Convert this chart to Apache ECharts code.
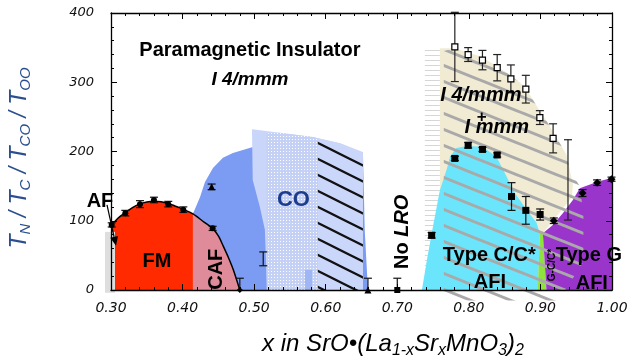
<!DOCTYPE html>
<html>
<head>
<meta charset="utf-8">
<script src="https://cdn.jsdelivr.net/npm/echarts@6/dist/echarts.min.js"></script>
<style>
  html, body { margin: 0; padding: 0; background: #fff; }
  #chart { width: 636px; height: 360px; }
</style>
</head>
<body>
<div id="chart"></div>
<script>
// ---------- phase regions: outlines as [x, T (K)] ----------
const fmBoundary = [[0.301,94],[0.31,104],[0.32,112],[0.33,119],[0.34,124],[0.35,127],[0.36,128],[0.37,127.5],
  [0.38,125],[0.39,121],[0.40,117],[0.4145,110],[0.43,98],[0.442,89],[0.45,78],[0.457,63],[0.464,47],[0.471,29],[0.48,0]];
const afStrip = [[0.2916,-4],[0.3056,-4],[0.3056,84],[0.2916,84]];
const coBaseEdge = [[0.4145,110],[0.4243,134],[0.4313,156],[0.4425,176],[0.4564,191],[0.4704,198],[0.49,204],
  [0.497,206],[0.652,199],[0.6545,87],[0.659,0]];
const coRegion = [[0.497,232],[0.536,227],[0.582,221],[0.620,212],[0.652,199],[0.652,0],[0.518,0],
  [0.515,87],[0.508,120],[0.498,159]];
const coDotted = [[0.5175,226],[0.536,227],[0.582,221],[0.589,219],[0.589,0],[0.5175,0]];
const coHatched = [[0.589,219],[0.620,212],[0.652,199],[0.652,0],[0.589,0]];
const coBar = [[0.571,0],[0.571,29],[0.581,29],[0.581,0]];
const stripeBand = [[0.7385,352],[0.7595,352],[0.7595,144],[0.7497,91],[0.7413,43],[0.7385,25]];
const tetragonal = [[0.7595,0],[0.7595,349],[0.7804,349],[0.8177,337],[0.8545,313],[0.8782,294],[0.8922,270],
  [0.9103,241],[0.9243,217],[0.9365,195],[0.9411,173],[0.9453,152],[0.944,134],[0.9034,82],[0.9034,0]];
const typeC = [[0.7344,0],[0.7413,43],[0.7497,91],[0.7595,144],[0.7693,175],[0.7735,192],[0.7828,205],[0.7968,208],
  [0.8196,207],[0.8387,192],[0.8527,164],[0.8643,140],[0.8806,116],[0.8946,97],[0.8992,82],[0.8964,0]];
const mixedGC = [[0.8964,0],[0.8992,82],[0.9034,82],[0.9084,0]];
const typeG = [[0.9084,0],[0.9034,82],[0.9173,94],[0.9313,111],[0.9453,130],[0.955,147],[0.9788,156],[1.0,162],[1.0,0]];
const hatchZone = [[0.765,345],[0.7804,349],[0.8177,337],[0.8545,313],[0.8782,294],[0.8922,270],[0.9103,241],
  [0.9243,217],[0.9365,195],[0.9411,173],[0.955,150],[0.96,110],[0.96,40],[0.925,-15],[0.765,-15]];

// ---------- measured transitions: [x, T, error] ----------
const fmTc = [[0.301,94,3],[0.32,111,4],[0.3405,124,5],[0.36,130,4],[0.38,124,4],[0.401,116,4],[0.442,89,3]];
const coOnset = [[0.4406,149,4]];
const coBroad = [[0.5127,45,10]];
const zeroCircle = [[0.48,0,17]];
const zeroTriangle = [[0.659,0,17]];
const zeroSquare = [[0.70,0,17]];
const tOO = [[0.7804,351,50],[0.799,340,10],[0.819,332,14],[0.8396,321,19],[0.8587,305,20],[0.8796,290,20],
  [0.8992,249,10],[0.9177,219,21]];
const tOOBroad = [[0.9385,159,58]];
const tnTypeC = [[0.748,79,4],[0.7804,190,3],[0.799,209,4],[0.819,203,3],[0.8396,195,3],[0.8596,135,20],
  [0.8796,115,20],[0.8996,109,8]];
const tnTypeG = [[0.9187,100,4],[0.9588,140,5],[0.9792,155,4],[0.9993,160,3]];

// ---------- helpers ----------
const SANS = '"Liberation Sans", Arial, Helvetica, sans-serif';
const TICK_FONT = '"DejaVu Sans", sans-serif';

function pattern(w, h, draw) {
  const c = document.createElement('canvas');
  c.width = w; c.height = h;
  draw(c.getContext('2d'), w, h);
  return { image: c, repeat: 'repeat' };
}
function slantLines(color, lw, bg) {
  return function (g, w, h) {
    if (bg) { g.fillStyle = bg; g.fillRect(0, 0, w, h); }
    g.strokeStyle = color; g.lineWidth = lw;
    for (let k = -1; k <= 1; k++) {
      g.beginPath(); g.moveTo(-2, k * h - 2 * h / w); g.lineTo(w + 2, k * h + h + 2 * h / w); g.stroke();
    }
  };
}
const grayHatch = pattern(40, 16, slantLines('#a9a9a9', 3, null));
const blackHatch = pattern(32, 16, slantLines('#111', 2.3, '#cad7fa'));
const dots = pattern(3, 3, (g) => {
  g.fillStyle = '#c4d1f5'; g.fillRect(0, 0, 3, 3);
  g.fillStyle = '#ffffff'; g.fillRect(1, 1, 1, 1);
});
const stripes = pattern(4, 5, (g) => {
  g.fillStyle = '#ffffff'; g.fillRect(0, 0, 4, 5);
  g.fillStyle = '#d6d6d6'; g.fillRect(0, 0, 4, 1);
});

let zi = 1;
function region(name, outline, fill) {
  return {
    type: 'custom', name, silent: true, z: zi++, animation: false,
    data: [outline[0]],
    renderItem: (params, api) => ({
      type: 'polygon',
      shape: { points: outline.map(p => api.coord(p)) },
      style: { fill: fill, stroke: null }
    })
  };
}

function errorBars(name, pts, color) {
  return {
    type: 'custom', name, silent: true, z: 40, animation: false,
    data: pts.map(p => [p[0], p[1], Math.max(0, p[1] - p[2]), p[1] + p[2]]),
    renderItem: (params, api) => {
      const lo = api.coord([api.value(0), api.value(2)]);
      const hi = api.coord([api.value(0), api.value(3)]);
      const st = { stroke: color, lineWidth: 1.2 };
      const kids = [
        { type: 'line', shape: { x1: hi[0], y1: hi[1], x2: lo[0], y2: lo[1] }, style: st },
        { type: 'line', shape: { x1: hi[0] - 4, y1: hi[1], x2: hi[0] + 4, y2: hi[1] }, style: st }
      ];
      if (api.value(2) > 0) {
        kids.push({ type: 'line', shape: { x1: lo[0] - 4, y1: lo[1], x2: lo[0] + 4, y2: lo[1] }, style: st });
      }
      return { type: 'group', children: kids };
    }
  };
}

function markers(name, pts, symbol, size, fill, border) {
  return {
    type: 'scatter', name, silent: true, z: 50, animation: false,
    symbol, symbolSize: size,
    itemStyle: { color: fill, borderColor: border || fill, borderWidth: border ? 1.2 : 0, opacity: 1 },
    data: pts.map(p => [p[0], p[1]])
  };
}

// text placed at data coordinates
const bold = { fontWeight: 'bold', fontFamily: SANS, fill: '#000' };
const annotations = [
  { x: 0.4941, y: 346, text: 'Paramagnetic Insulator', size: 20 },
  { x: 0.4941, y: 303, text: 'I 4/mmm', size: 19, italic: true },
  { x: 0.2846, y: 128, text: 'AF', size: 20 },
  { x: 0.3642, y: 41, text: 'FM', size: 20 },
  { x: 0.448, y: 30, text: 'CAF', size: 20, rot: Math.PI / 2 },
  { x: 0.5549, y: 130, text: 'CO', size: 22, color: '#1d3d8c' },
  { x: 0.7078, y: 84, text: '{a|No} {b|LRO}', size: 20, rot: Math.PI / 2,
    rich: { a: { fontSize: 20, fontWeight: 'bold', fontFamily: SANS },
            b: { fontSize: 20, fontWeight: 'bold', fontStyle: 'italic', fontFamily: SANS } } },
  { x: 0.8168, y: 281, text: 'I 4/mmm', size: 20, italic: true },
  { x: 0.839, y: 234, text: 'I mmm', size: 20, italic: true },
  { x: 0.818, y: 250, text: '+', size: 17 },
  { x: 0.8286, y: 50, text: 'Type C/C*', size: 20 },
  { x: 0.8293, y: 11, text: 'AFI', size: 20 },
  { x: 0.9159, y: 36, text: 'G-C/C*', size: 10, rot: Math.PI / 2 },
  { x: 0.9676, y: 50, text: 'Type G', size: 20 },
  { x: 0.9718, y: 10, text: 'AFI', size: 20 }
];

const series = [
  region('FM', [[fmBoundary[0][0], 0], ...fmBoundary.filter(p => p[0] <= 0.4145), [0.4145, 0]], '#ff2a00'),
  region('AF', afStrip, '#dedede'),
  region('CAF', [[0.4145, 0], ...fmBoundary.filter(p => p[0] >= 0.4145)], '#e08b99'),
  region('CO base', [...coBaseEdge, ...fmBoundary.filter(p => p[0] >= 0.4145).reverse()], '#7b9cf2'),
  region('CO', coRegion, '#c9d6fa'),
  region('CO dotted', coDotted, dots),
  region('CO hatched', coHatched, blackHatch),
  region('CO bar', coBar, '#9fb6f5'),
  region('stripes', stripeBand, stripes),
  region('I4/mmm', tetragonal, '#f1ebd4'),
  region('Type C', typeC, '#6be5fb'),
  region('G-C', mixedGC, '#8fe23b'),
  region('Type G', typeG, '#9a35cc'),
  region('Immm', hatchZone, grayHatch),
  {
    type: 'line', name: 'FM boundary', data: fmBoundary, showSymbol: false, silent: true, z: 30,
    animation: false, smooth: 0.3, lineStyle: { color: '#000', width: 1.5 }
  },
  {
    type: 'custom', name: 'AF pointer', silent: true, z: 45, animation: false,
    data: [[0.2944, 123]],
    renderItem: (params, api) => {
      const a = api.coord([0.2944, 123]);
      const b = api.coord([0.307, 64]);
      const dx = b[0] - a[0], dy = b[1] - a[1], L = Math.hypot(dx, dy);
      const ux = dx / L, uy = dy / L;
      const base = [b[0] - ux * 9, b[1] - uy * 9];
      return {
        type: 'group', children: [
          { type: 'line', shape: { x1: a[0], y1: a[1], x2: base[0], y2: base[1] }, style: { stroke: '#000', lineWidth: 1.2 } },
          { type: 'polygon', shape: { points: [b, [base[0] - uy * 4, base[1] + ux * 4], [base[0] + uy * 4, base[1] - ux * 4]] },
            style: { fill: '#000' } }
        ]
      };
    }
  },
  errorBars('FM err', fmTc, '#111'),
  errorBars('CO err', coOnset.concat(coBroad), '#111'),
  errorBars('zero err', zeroCircle.concat(zeroTriangle, zeroSquare), '#111'),
  errorBars('OO err', tOO.concat(tOOBroad), '#222'),
  errorBars('C err', tnTypeC, '#111'),
  errorBars('G err', tnTypeG, '#111'),
  markers('T_C', fmTc, 'circle', 6, '#000'),
  markers('CO onset', coOnset, 'triangle', 7, '#000'),
  markers('zero circle', zeroCircle, 'diamond', 6, '#000'),
  markers('zero triangle', zeroTriangle, 'triangle', 7, '#000'),
  markers('zero square', zeroSquare, 'rect', 6, '#000'),
  markers('T_OO', tOO, 'rect', 6, '#fff', '#000'),
  markers('T_N C', tnTypeC, 'rect', 7, '#000'),
  markers('T_N G', tnTypeG, 'diamond', 8, '#000'),
  {
    type: 'custom', name: 'labels', silent: true, z: 60, animation: false,
    data: annotations.map(a => [a.x, a.y]),
    renderItem: (params, api) => {
      const a = annotations[params.dataIndex];
      const p = api.coord([a.x, a.y]);
      return {
        type: 'text', x: p[0], y: p[1], rotation: a.rot || 0,
        style: {
          text: a.text, rich: a.rich,
          fontSize: a.size, fontWeight: 'bold', fontStyle: a.italic ? 'italic' : 'normal',
          fontFamily: SANS, fill: a.color || '#000',
          align: 'center', verticalAlign: 'middle', textAlign: 'center', textVerticalAlign: 'middle'
        }
      };
    }
  }
];

const frameLine = { show: true, onZero: false, lineStyle: { color: '#000', width: 1.3 } };
const tick = { show: true, inside: true, length: 6, lineStyle: { color: '#000', width: 1 } };
const minor = { show: true, splitNumber: 5, length: 3, lineStyle: { color: '#000', width: 1 } };

const chart = echarts.init(document.getElementById('chart'), null, { renderer: 'canvas' });
chart.setOption({
  animation: false,
  backgroundColor: '#fff',
  grid: { left: 111, right: 24, top: 13, bottom: 70 },
  xAxis: [
    {
      type: 'value', min: 0.3, max: 1.0, interval: 0.1, z: 80,
      axisLine: frameLine, axisTick: tick, minorTick: minor, splitLine: { show: false },
      axisLabel: {
        formatter: v => v.toFixed(2), margin: 11, color: '#111',
        fontFamily: TICK_FONT, fontStyle: 'italic', fontSize: 14
      }
    },
    {
      type: 'value', position: 'top', min: 0.3, max: 1.0, interval: 0.1, z: 80,
      axisLine: frameLine, axisTick: tick, minorTick: minor, splitLine: { show: false },
      axisLabel: { show: false }
    }
  ],
  yAxis: [
    {
      type: 'value', min: 0, max: 400, interval: 100, z: 80,
      axisLine: frameLine, axisTick: tick, minorTick: minor, splitLine: { show: false },
      axisLabel: { margin: 17, color: '#111', fontFamily: TICK_FONT, fontStyle: 'italic', fontSize: 13 }
    },
    {
      type: 'value', position: 'right', min: 0, max: 400, interval: 100, z: 80,
      axisLine: frameLine, axisTick: tick, minorTick: minor, splitLine: { show: false },
      axisLabel: { show: false }
    }
  ],
  graphic: [
    {
      type: 'text', x: 20, y: 158, rotation: Math.PI / 2, z: 100,
      style: {
        text: '{t|T}{s|N}{t| / T}{s|C}{t| / T}{s|CO}{t| / T}{s|OO}',
        align: 'center', verticalAlign: 'middle', fill: '#2b4f8e',
        rich: {
          t: { fontSize: 23, fontStyle: 'italic', fontFamily: SANS, fill: '#2b4f8e' },
          s: { fontSize: 15, fontStyle: 'italic', fontFamily: SANS, fill: '#2b4f8e', padding: [12, 0, 0, 0] }
        }
      }
    },
    {
      type: 'text', x: 393, y: 344, z: 100,
      style: {
        text: '{t|x in SrO•(La}{s|1-x}{t|Sr}{s|x}{t|MnO}{s|3}{t|)}{s|2}',
        align: 'center', verticalAlign: 'middle', fill: '#000',
        rich: {
          t: { fontSize: 24, fontStyle: 'italic', fontFamily: SANS, fill: '#000' },
          s: { fontSize: 16, fontStyle: 'italic', fontFamily: SANS, fill: '#000', padding: [13, 0, 0, 0] }
        }
      }
    }
  ],
  series: series
});
</script>
</body>
</html>
